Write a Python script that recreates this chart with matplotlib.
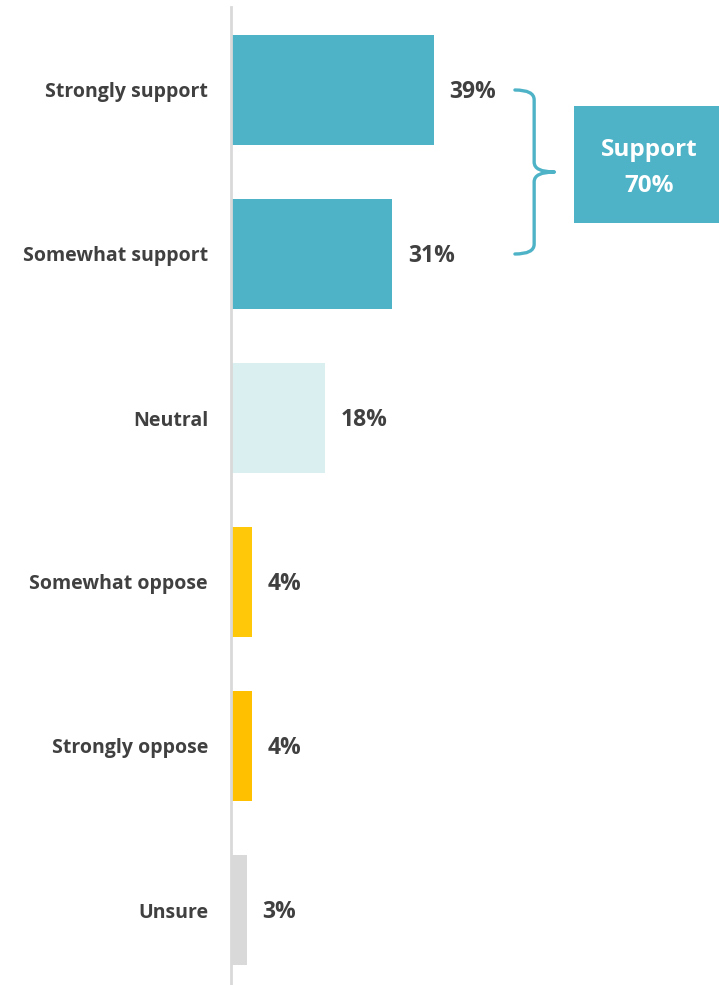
import numpy as np
import matplotlib
matplotlib.use("Agg")
import matplotlib.pyplot as plt
from matplotlib.path import Path
from matplotlib.patches import PathPatch, Rectangle

plt.rcParams['font.family'] = ['Open Sans', 'DejaVu Sans']

categories = ['Strongly support', 'Somewhat support', 'Neutral',
              'Somewhat oppose', 'Strongly oppose', 'Unsure']
values = [39, 31, 18, 4, 4, 3]
colors = ['#4FB3C7', '#4FB3C7', '#DAEFEF', '#FFC90A', '#FFC000', '#D9D9D9']
support_idx = [0, 1]

teal = '#4FB3C7'
text_color = '#404040'

fig = plt.figure(figsize=(7.19, 9.85), dpi=100)
ax = fig.add_axes([231 / 719, -7 / 985, 488 / 719, 984 / 985])

y = np.arange(len(categories))
ax.barh(y, values, height=0.67, color=colors)
ax.set_ylim(len(categories) - 0.5, -0.5)
ax.set_xlim(0, 488 / 5.2)

for yi, v in zip(y, values):
    ax.text(v + 3.0, yi + 0.015, f'{v}%', va='center', ha='left', fontsize=16.5,
            fontweight='bold', color=text_color)

ax.set_yticks(y)
ax.set_yticklabels(categories, fontsize=14, fontweight='bold', color=text_color)
ax.tick_params(axis='y', length=0, pad=16.5)
ax.set_xticks([])
for s in ['top', 'right', 'bottom']:
    ax.spines[s].set_visible(False)
ax.spines['left'].set_color('#D9D9D9')
ax.spines['left'].set_linewidth(2)
ax.spines['left'].set_bounds(-0.5 - 1 / 164, len(categories) - 0.5)

# curly brace around the support rows
y0, y1 = y[support_idx[0]], y[support_idx[-1]]
ym = (y0 + y1) / 2
xl, xv, xt = 54.6, 58.3, 62.2
c = 0.06
verts = [(xl, y0), (xv, y0), (xv, y0 + c),
         (xv, ym - c), (xv, ym), (xt, ym),
         (xv, ym), (xv, ym + c),
         (xv, y1 - c), (xv, y1), (xl, y1)]
codes = [Path.MOVETO, Path.CURVE3, Path.CURVE3,
         Path.LINETO, Path.CURVE3, Path.CURVE3,
         Path.CURVE3, Path.CURVE3,
         Path.LINETO, Path.CURVE3, Path.CURVE3]
ax.add_patch(PathPatch(Path(verts, codes), fill=False, edgecolor=teal,
                       linewidth=2.4, capstyle='round', joinstyle='round',
                       clip_on=False))

total = sum(values[i] for i in support_idx)
box_x0, box_x1 = 66.0, 488 / 5.2
box_y0, box_y1 = 0.10, 0.81
ax.add_patch(Rectangle((box_x0, box_y0), box_x1 - box_x0, box_y1 - box_y0,
                       facecolor=teal, edgecolor='none', clip_on=False))
ax.text((box_x0 + box_x1) / 2 + 0.5, (box_y0 + box_y1) / 2 + 0.02,
        f'Support\n{total}%', ha='center', va='center', fontsize=17.5,
        fontweight='bold', color='white', linespacing=1.68)

fig.savefig('out.png', dpi=100)
